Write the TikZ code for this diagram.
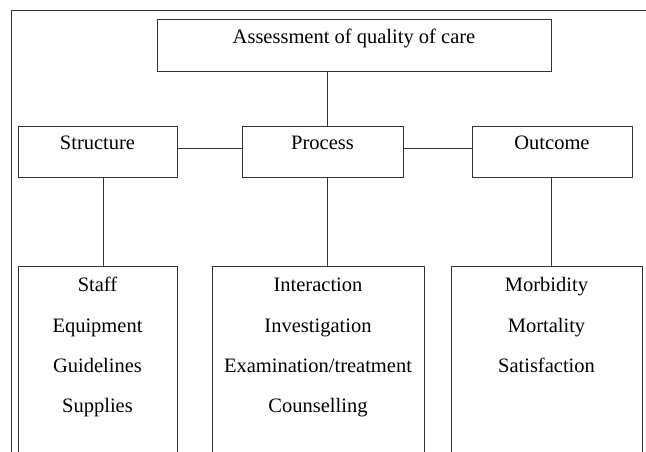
\documentclass[tikz,border=0pt]{standalone}
\usepackage{fontspec}
\setmainfont{Liberation Serif}
\begin{document}
\begin{tikzpicture}[x=1bp,y=-1bp,
  line/.style={draw=black!80,line width=1bp},
  box/.style={line,rectangle,inner sep=0pt,anchor=north west},
  txt/.style={anchor=base,inner sep=0pt,font=\fontsize{20.5bp}{24bp}\selectfont}]
\useasboundingbox (0,0) rectangle (646,452);

% outer frame (top and left edges)
\coordinate (frameTL) at (11,11);
\coordinate (frameTR) at (646,11);
\coordinate (frameBL) at (11,452);
\draw[line] (frameTR) -- (frameTL) -- (frameBL);

% column and row guides for the connectors
\coordinate (scol) at (103,0);
\coordinate (pcol) at (327,0);
\coordinate (ocol) at (551,0);
\coordinate (hrow) at (0,149);

% top box
\node[box,minimum width=394bp,minimum height=52bp] (top) at (157,19) {};
\node[txt] (toptxt) at (354,44) {Assessment of quality of care};

% middle row
\node[box,minimum width=159bp,minimum height=51bp] (struct) at (18,126) {};
\node[txt] (structtxt) at (97.5,150) {Structure};
\node[box,minimum width=161bp,minimum height=51bp] (proc) at (242,126) {};
\node[txt] (proctxt) at (322.5,150) {Process};
\node[box,minimum width=160bp,minimum height=51bp] (outc) at (472,126) {};
\node[txt] (outctxt) at (552,150) {Outcome};

% bottom row
\node[box,minimum width=159bp,minimum height=186bp] (slist) at (18,266) {};
\node[box,minimum width=212bp,minimum height=186bp] (plist) at (212,266) {};
\node[box,minimum width=191bp,minimum height=186bp] (olist) at (451,266) {};

\node[txt] (s1) at (97.5,292) {Staff};
\node[txt] (s2) at (97.5,332) {Equipment};
\node[txt] (s3) at (97.5,372) {Guidelines};
\node[txt] (s4) at (97.5,412) {Supplies};

\node[txt] (p1) at (318,292) {Interaction};
\node[txt] (p2) at (318,332) {Investigation};
\node[txt] (p3) at (318,372) {Examination/treatment};
\node[txt] (p4) at (318,412) {Counselling};

\node[txt] (o1) at (546.5,292) {Morbidity};
\node[txt] (o2) at (546.5,332) {Mortality};
\node[txt] (o3) at (546.5,372) {Satisfaction};

% connectors
\draw[line] (top.south -| pcol) -- (proc.north -| pcol);
\draw[line] (struct.east |- hrow) -- (proc.west |- hrow);
\draw[line] (proc.east |- hrow) -- (outc.west |- hrow);
\draw[line] (struct.south -| scol) -- (slist.north -| scol);
\draw[line] (proc.south -| pcol) -- (plist.north -| pcol);
\draw[line] (outc.south -| ocol) -- (olist.north -| ocol);
\end{tikzpicture}
\end{document}
